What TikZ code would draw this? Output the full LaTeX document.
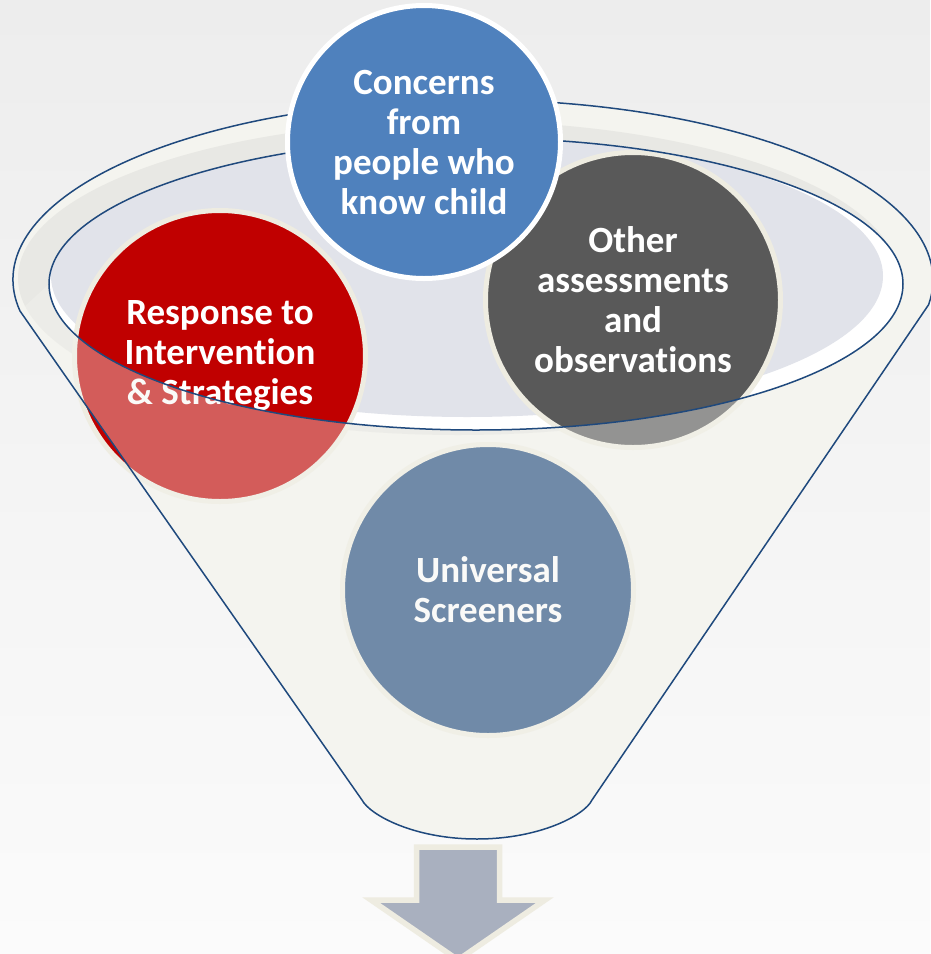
\documentclass[tikz,border=0pt]{standalone}
\usepackage{fontspec}
\setmainfont{Carlito}[Ligatures={NoCommon,NoContextual}]
\definecolor{concernblue}{HTML}{4F81BD}
\definecolor{rtired}{HTML}{C00000}
\definecolor{othergrey}{HTML}{595959}
\definecolor{screenblue}{HTML}{1F497D}
\definecolor{creamline}{HTML}{EEECE1}
\definecolor{funnelbody}{HTML}{F4F4EF}
\definecolor{rimshadow}{HTML}{E8E8E4}
\definecolor{mouthgrey}{HTML}{E1E3EA}
\definecolor{edgeblue}{HTML}{1F497D}
\definecolor{arrowgrey}{HTML}{A9B0BF}
\definecolor{bgtop}{HTML}{EDEDED}
\definecolor{bgbottom}{HTML}{FBFBFB}

\begin{document}
\begin{tikzpicture}[x=1pt,y=-1pt,
    bubble/.style={circle,draw=creamline,line width=5pt,text=white,align=center,
        inner sep=0pt,font=\fontsize{37}{40}\selectfont\bfseries},
    edge/.style={draw=edgeblue,line width=1.5pt}]
    \useasboundingbox (0,0) rectangle (930,954);
    \shade[top color=bgtop,bottom color=bgbottom] (0,0) rectangle (930,954);
    % funnel, back part
    \coordinate (lc) at (20,311);
    \coordinate (rc) at (928.5,305);
    \coordinate (lb) at (362,800);
    \coordinate (rb) at (592,800);
    \fill[funnelbody] (lc) arc[start angle=170,end angle=368,x radius=460,y radius=180]
        -- (rb) .. controls (585,815) and (540,839) .. (477,839)
        .. controls (414,839) and (370,815) .. (lb) -- cycle;
    \fill[rimshadow] (458,278) ellipse[x radius=440,y radius=157];
    \fill[white] (476,284) ellipse[x radius=427,y radius=146];
    \begin{scope}
        \clip (476,284) ellipse[x radius=427,y radius=146];
        \fill[mouthgrey] (467,276) ellipse[x radius=416,y radius=141];
    \end{scope}
    % circles in the funnel
    \node[bubble,fill=rtired,minimum size=291pt] (rti) at (220,356)
        {Response to\\Intervention\\\& Strategies};
    \node[bubble,fill=othergrey,minimum size=295pt] (other) at (633,300)
        {Other\\assessments\\and\\observations};
    \node[bubble,fill=screenblue,minimum size=291pt] (screen) at (488,590)
        {Universal\\Screeners};
    % funnel, front part
    \fill[funnelbody,opacity=0.38] (49,284) arc[start angle=180,end angle=0,x radius=427,y radius=146]
        -- (rc) -- (rb) .. controls (585,815) and (540,839) .. (477,839)
        .. controls (414,839) and (370,815) .. (lb) -- (lc) -- cycle;
    \draw[edge] (lc) arc[start angle=170,end angle=368,x radius=460,y radius=180]
        -- (rb) .. controls (585,815) and (540,839) .. (477,839)
        .. controls (414,839) and (370,815) .. (lb) -- cycle;
    \draw[edge] (476,284) ellipse[x radius=427,y radius=146];
    \node[bubble,draw=white,fill=concernblue,minimum size=273pt] (concerns) at (424,142)
        {Concerns\\from\\people who\\know child};
    % arrow out of the funnel
    \draw[draw=creamline,fill=arrowgrey,line width=5.5pt]
        (416.5,847) -- (499.5,847) -- (499.5,900) -- (545,900) -- (458,960)
        -- (371,900) -- (416.5,900) -- cycle;
\end{tikzpicture}
\end{document}
